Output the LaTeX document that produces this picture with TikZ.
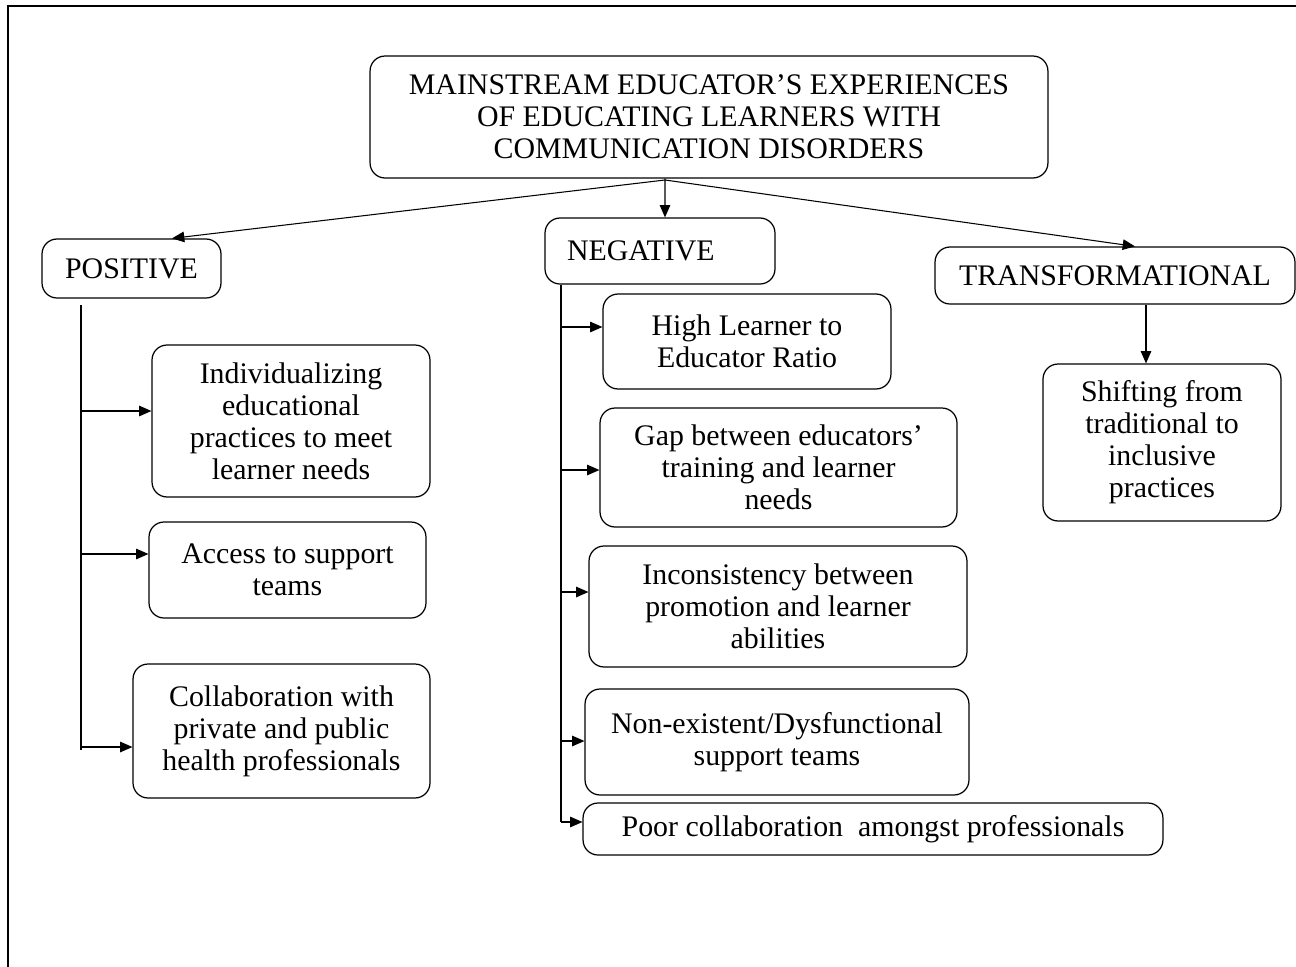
\documentclass[tikz,border=0pt]{standalone}
\usepackage{fontspec}
\setmainfont{Liberation Serif}
\usetikzlibrary{positioning}
\usetikzlibrary{arrows.meta}

\begin{document}
\begin{tikzpicture}[x=0.02cm, y=-0.02cm, font=\fontsize{17}{18.2}\selectfont,
        box/.style={draw, rounded corners=0.3cm, line width=0.7pt, align=center, inner sep=0pt},
        arr/.style={-{Triangle[length=7pt,width=6pt]}, line width=0.6pt}]
            \useasboundingbox (0,0) rectangle (1296,967);
            \draw[line width=0.8pt] (8,967) -- (8,6) -- (1296,6);

            \node[box, minimum width=13.56cm, minimum height=2.44cm] (main) at (709,117) {MAINSTREAM EDUCATOR’S EXPERIENCES\\OF EDUCATING LEARNERS WITH\\COMMUNICATION DISORDERS};
            \node[box, minimum width=3.58cm, minimum height=1.18cm] (pos) at (131.5,268.5) {POSITIVE};
            \node[box, align=left, text width=3.72cm, inner xsep=0.44cm, minimum height=1.32cm] (neg) at (660,251) {NEGATIVE};
            \node[box, minimum width=7.2cm, minimum height=1.14cm] (trans) at (1115,275.5) {TRANSFORMATIONAL};

            \node[box, minimum width=4.76cm, minimum height=3.14cm] (shift) at (1162,442.5) {Shifting from\\traditional to\\inclusive\\practices};

            \node[box, minimum width=5.56cm, minimum height=3.04cm] (ind) at (291,421) {Individualizing\\educational\\practices to meet\\learner needs};
            \node[box, minimum width=5.54cm, minimum height=1.92cm] (acc) at (287.5,570) {Access to support\\teams};
            \node[box, minimum width=5.94cm, minimum height=2.68cm] (col) at (281.5,731) {Collaboration with\\private and public\\health professionals};

            \node[box, minimum width=5.76cm, minimum height=1.9cm] (high) at (747,341.5) {High Learner to\\Educator Ratio};
            \node[box, minimum width=7.14cm, minimum height=2.38cm] (gap) at (778.5,467.5) {Gap between educators’\\training and learner\\needs};
            \node[box, minimum width=7.56cm, minimum height=2.42cm] (inc) at (778,606.5) {Inconsistency between\\promotion and learner\\abilities};
            \node[box, minimum width=7.68cm, minimum height=2.12cm] (non) at (777,742) {Non-existent/Dysfunctional\\support teams};
            \node[box, minimum width=11.6cm, minimum height=1.04cm] (poor) at (873,829) {Poor collaboration\ \ amongst professionals};

            \coordinate (split) at (665,180);
            \draw[line width=0.6pt] ([xshift=-0.88cm]main.south) -- (split);
            \draw[arr] (split) -- ([xshift=0.81cm]pos.north);
            \draw[arr] (split) -- ([xshift=0.1cm]neg.north);
            \draw[arr] (split) -- ([xshift=0.4cm]trans.north);

            \coordinate (tdown) at ([xshift=-0.32cm]shift.north);
            \draw[arr] (trans.south -| tdown) -- (tdown);

            % positive branch
            \coordinate (pbar) at (81,750);
            \draw[line width=0.6pt] (81,305) -- (pbar);
            \foreach \n/\y in {ind/411, acc/554, col/747}
                \draw[arr] (81,\y) -- (\n.west |- 81,\y);

            % negative branch
            \coordinate (nbar) at (561,822);
            \draw[line width=0.6pt] (neg.south -| nbar) -- (nbar);
            \foreach \n/\y in {high/327, gap/470, inc/592, non/741, poor/822}
                \draw[arr] (561,\y) -- (\n.west |- 561,\y);
        \end{tikzpicture}
\end{document}
